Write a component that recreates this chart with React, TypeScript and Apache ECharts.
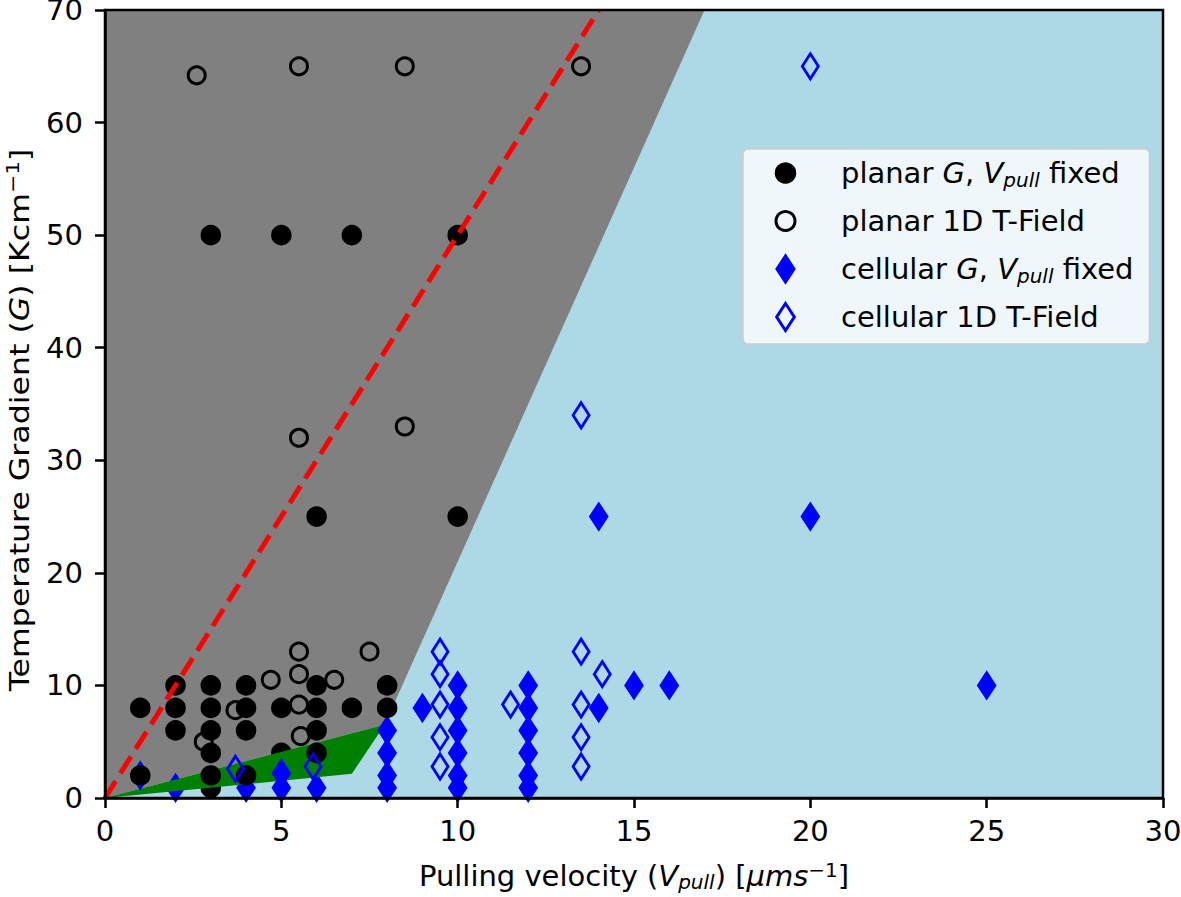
import React, { useEffect, useRef } from "react";
import * as echarts from "echarts";

const FONT = "DejaVu Sans";

// Axis ranges / ticks
const xMin = 0, xMax = 30, xStep = 5;
const yMin = 0, yMax = 70, yStep = 10;

// Regions (data coordinates)
const grayRegion: number[][] = [[0, 0], [0, 70], [17, 70], [7.93, 6.5]];
const greenRegion: number[][] = [[0, 0], [7.93, 6.5], [7, 2.15]];
const redBoundary: number[][] = [[0, 0], [14, 70]];

// planar, G and V_pull fixed (filled black circles)
const planarFixed: number[][] = [
  [3, 50], [5, 50], [7, 50], [10, 50], [6, 25], [10, 25],
  [1, 8], [1, 2], [2, 10], [2, 8], [2, 6], [3, 10], [3, 8], [3, 6], [3, 4], [3, 2],
  [4, 10], [4, 8], [4, 6], [4, 2], [5, 8], [6, 10], [6, 8], [6, 6], [6, 4], [7, 8], [8, 10], [8, 8],
];
const planarFixedUnder: number[][] = [[5, 4], [3, 0.9]];

// planar, 1D T-Field (open black circles)
const planar1D: number[][] = [
  [2.6, 64.2], [5.5, 65], [8.5, 65], [13.5, 65], [5.5, 32], [8.5, 33],
  [4.7, 10.5], [5.5, 13], [7.5, 13], [5.5, 11], [6.5, 10.5], [5.5, 8.3], [3.7, 7.8], [2.8, 5], [5.55, 5.5],
];

// cellular, G and V_pull fixed (filled blue diamonds)
const cellularFixed: number[][] = [
  [1, 2], [5, 2.2], [8, 6], [8, 4], [8, 2], [8, 0.9], [9, 8],
  [10, 10], [10, 8], [10, 6], [10, 4], [10, 2], [10, 0.9],
  [12, 10], [12, 8], [12, 6], [12, 4], [12, 2], [12, 0.9],
  [14, 8], [15, 10], [16, 10], [14, 25], [20, 25], [25, 10],
];
const cellularFixedUnder: number[][] = [[2, 0.9], [4, 0.9], [5, 0.9], [6, 0.9]];

// cellular, 1D T-Field (open blue diamonds)
const cellular1D: number[][] = [
  [3.7, 2.6], [5.9, 2.8], [9.5, 13], [9.5, 11], [9.5, 8.3], [9.5, 5.4], [9.5, 2.8],
  [11.5, 8.3], [13.5, 13], [13.5, 8.3], [13.5, 5.4], [13.5, 2.8], [14.1, 11], [13.5, 34], [20, 65],
];

const seriesNames = [
  "planar G, V_pull fixed",
  "planar 1D T-Field",
  "cellular G, V_pull fixed",
  "cellular 1D T-Field",
];
const legendRich: Record<string, string> = {
  "planar G, V_pull fixed": "{sp|}planar {i|G}, {i|V}{sub|pull} fixed",
  "planar 1D T-Field": "{sp|}planar 1D T-Field",
  "cellular G, V_pull fixed": "{sp|}cellular {i|G}, {i|V}{sub|pull} fixed",
  "cellular 1D T-Field": "{sp|}cellular 1D T-Field",
};

const xLabel = "Pulling velocity ({i|V}{sub|pull}) [{i|μms}{sup|−1}]";
const yLabel = "Temperature Gradient ({i|G}) [Kcm{sup|−1}]";

const BLUE = "#0000ff";
const DIAMOND_PATH = "path://M0,-13L8.5,0L0,13L-8.5,0Z";

const richStyles: any = {
  i: { fontStyle: "italic", fontSize: 29, fontFamily: FONT, color: "#000", fill: "#000" },
  sub: { fontStyle: "italic", fontSize: 20, fontFamily: FONT, color: "#000", fill: "#000", verticalAlign: "bottom" },
  sup: { fontSize: 20, fontFamily: FONT, color: "#000", fill: "#000", verticalAlign: "top" },
  sp: { width: 41 },
};

function polygonSeries(points: number[][], color: string, z: number) {
  return {
    type: "custom",
    z,
    silent: true,
    clip: true,
    data: [[0, 0]],
    renderItem: (_p: any, api: any) => ({
      type: "polygon",
      shape: { points: points.map((pt) => api.coord(pt)) },
      style: { fill: color },
    }),
  };
}

export default function App() {
  const ref = useRef<HTMLDivElement>(null);
  useEffect(() => {
    if (!ref.current) return;
    const chart = echarts.init(ref.current, null, { renderer: "svg" });
    const circleFilled = { color: "#000", borderColor: "#000", borderWidth: 2.5, opacity: 1 };
    const circleOpen = { color: "transparent", borderColor: "#000", borderWidth: 3, opacity: 1 };
    const diaFilled = { color: BLUE, borderColor: BLUE, borderWidth: 2.5, opacity: 1 };
    const diaOpen = { color: "transparent", borderColor: BLUE, borderWidth: 3, opacity: 1 };
    const option: any = {
      animation: false,
      textStyle: { fontFamily: FONT },
      grid: {
        left: 105, top: 10, right: 18, bottom: 99,
        show: true, backgroundColor: "#add8e6", borderWidth: 0,
        containLabel: false, outerBoundsMode: "none",
      },
      xAxis: {
        type: "value", min: xMin, max: xMax, interval: xStep, z: 10,
        splitLine: { show: false },
        axisLine: { show: true, lineStyle: { color: "#000", width: 2.5 } },
        axisTick: { show: true, length: 10, lineStyle: { color: "#000", width: 2.5 } },
        axisLabel: { fontSize: 29, color: "#000", margin: 18, fontFamily: FONT },
        name: xLabel, nameLocation: "middle", nameGap: 62,
        nameTextStyle: { fontSize: 29, color: "#000", fontFamily: FONT, lineHeight: 32, rich: richStyles },
      },
      yAxis: {
        type: "value", min: yMin, max: yMax, interval: yStep, z: 10,
        splitLine: { show: false },
        axisLine: { show: true, lineStyle: { color: "#000", width: 2.5 } },
        axisTick: { show: true, length: 10, lineStyle: { color: "#000", width: 2.5 } },
        axisLabel: { fontSize: 29, color: "#000", margin: 22, fontFamily: FONT },
      },
      legend: {
        orient: "vertical", left: 743, top: 149,
        padding: [7, 16, 10, 31.5], itemGap: 14, itemWidth: 19, itemHeight: 27,
        backgroundColor: "rgba(255,255,255,0.8)", borderColor: "#cccccc", borderWidth: 1.5, borderRadius: 5,
        selectedMode: false,
        textStyle: { fontSize: 29, fontFamily: FONT, color: "#000", lineHeight: 34, rich: richStyles },
        formatter: (name: string) => legendRich[name] || name,
        data: [
          { name: seriesNames[0], icon: "circle", itemStyle: circleFilled },
          { name: seriesNames[1], icon: "circle", itemStyle: circleOpen },
          { name: seriesNames[2], icon: DIAMOND_PATH, itemStyle: diaFilled },
          { name: seriesNames[3], icon: DIAMOND_PATH, itemStyle: diaOpen },
        ],
      },
      graphic: [
        {
          type: "rect", z: 100, silent: true,
          shape: { x: 105, y: 10, width: 1058, height: 788 },
          style: { fill: "none", stroke: "#000", lineWidth: 2.5 },
        },
        {
          type: "text", z: 100, silent: true,
          x: 20, y: 420, rotation: Math.PI / 2, scaleX: 1.09, scaleY: 0.92,
          style: {
            text: yLabel, fontSize: 29, fontFamily: FONT, fill: "#000",
            align: "center", verticalAlign: "middle", lineHeight: 36, rich: richStyles,
          },
        },
      ],
      series: [
        polygonSeries(grayRegion, "#808080", 1),
        { name: seriesNames[2], type: "scatter", z: 2, symbol: "diamond", symbolSize: [17, 26], data: cellularFixedUnder, itemStyle: diaFilled, silent: true },
        { name: seriesNames[0], type: "scatter", z: 3, symbol: "circle", symbolSize: 18, data: planarFixedUnder, itemStyle: circleFilled, silent: true },
        polygonSeries(greenRegion, "#008000", 4),
        { name: seriesNames[2], type: "scatter", z: 5, symbol: "diamond", symbolSize: [17, 26], data: cellularFixed, itemStyle: diaFilled, silent: true },
        { name: seriesNames[0], type: "scatter", z: 6, symbol: "circle", symbolSize: 18, data: planarFixed, itemStyle: circleFilled, silent: true },
        { name: seriesNames[1], type: "scatter", z: 7, symbol: "circle", symbolSize: 17, data: planar1D, itemStyle: circleOpen, silent: true },
        { name: seriesNames[3], type: "scatter", z: 8, symbol: "diamond", symbolSize: [16, 25], data: cellular1D, itemStyle: diaOpen, silent: true },
        {
          type: "line", z: 9, data: redBoundary, symbol: "none", silent: true,
          lineStyle: { color: "#ff0000", width: 5, type: [20, 9] },
        },
      ],
    };
    chart.setOption(option);
    return () => chart.dispose();
  }, []);
  return (
    <div
      ref={ref}
      style={{ position: "absolute", left: 0, top: 0, width: 1181, height: 897, background: "#fff" }}
    />
  );
}
